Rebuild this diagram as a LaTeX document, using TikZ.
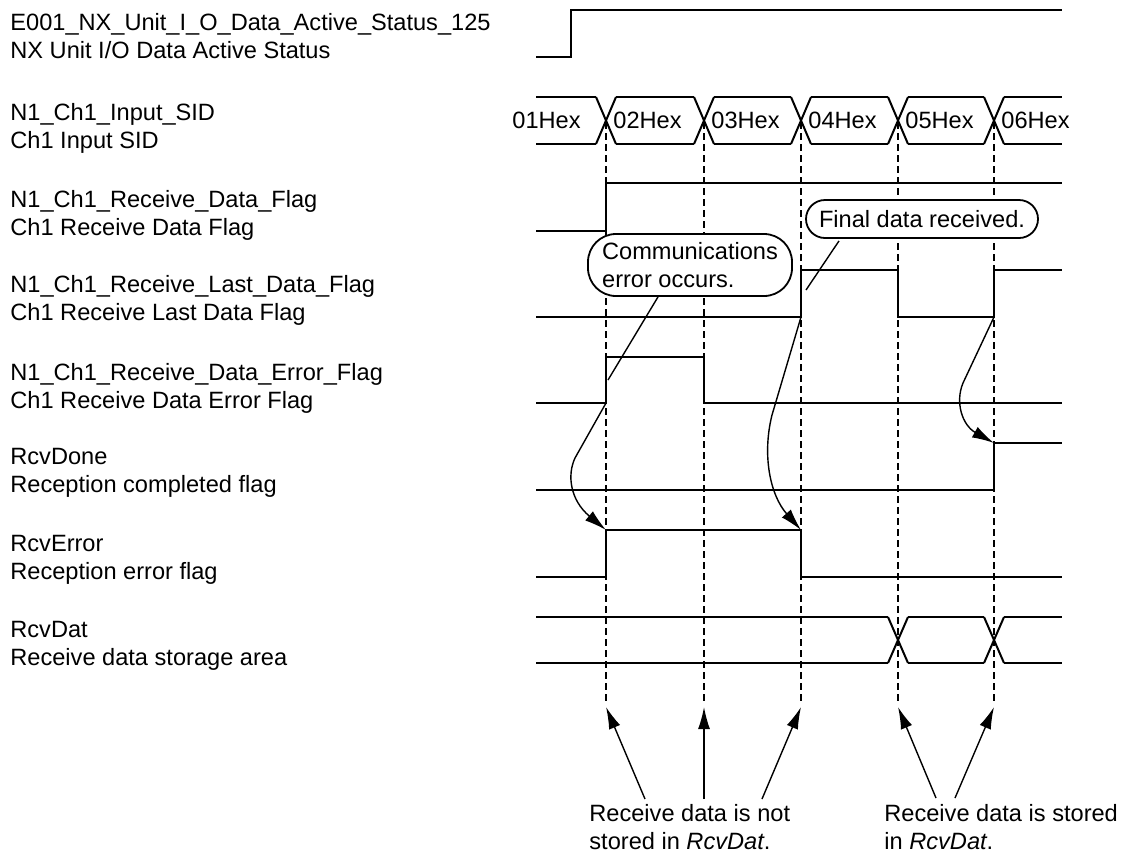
\documentclass[tikz,border=0pt]{standalone}
\usepackage{fontspec}
\setmainfont{Liberation Sans}
\usetikzlibrary{arrows.meta,calc,shapes.misc}

\begin{document}
\begin{tikzpicture}[x=0.5pt,y=-0.5pt,
  font=\fontsize{11.8}{13.9}\selectfont,
  wave/.style={line width=1pt},
  guide/.style={line width=0.7pt,dash pattern=on 3.5pt off 2pt},
  lead/.style={line width=0.7pt},
  headarrow/.style={-{Latex[length=11pt,width=6pt]}},
  callout/.style={draw,fill=white,line width=0.9pt,align=left,inner sep=0pt},
  sig/.style={anchor=west,align=left,inner sep=0pt}]
\useasboundingbox (0,0) rectangle (1129,852);

% signal names
\node[sig] (lblactive) at (10,36) {E001\_NX\_Unit\_I\_O\_Data\_Active\_Status\_125\\NX Unit I/O Data Active Status};
\node[sig] (lblsid) at (10,128) {N1\_Ch1\_Input\_SID\\Ch1 Input SID};
\node[sig] (lblrecv) at (10,215) {N1\_Ch1\_Receive\_Data\_Flag\\Ch1 Receive Data Flag};
\node[sig] (lbllast) at (10,300) {N1\_Ch1\_Receive\_Last\_Data\_Flag\\Ch1 Receive Last Data Flag};
\node[sig] (lblerr) at (10,388) {N1\_Ch1\_Receive\_Data\_Error\_Flag\\Ch1 Receive Data Error Flag};
\node[sig] (lbldone) at (10,473) {RcvDone\\Reception completed flag};
\node[sig] (lblrcverr) at (10,560) {RcvError\\Reception error flag};
\node[sig] (lbldat) at (10,646) {RcvDat\\Receive data storage area};

% dashed time marks
\foreach \t [count=\i] in {606,704,801,898,994} {
  \draw[guide] (\t,122) -- (\t,703);
  \coordinate (d\i) at (\t,707);
}

% waveforms
\draw[wave] (536,57) -- (571,57) -- (571,10) -- (1062,10);

\foreach \a/\b in {536/596,616/694,714/791,811/888,908/984,1004/1062}
  \draw[wave] (\a,97) -- (\b,97) (\a,144) -- (\b,144);
\foreach \t in {606,704,801,898,994}
  \draw[wave] (\t-10,97) -- (\t+10,144) (\t-10,144) -- (\t+10,97);
\node[anchor=east,inner sep=0pt] (sid1) at (581,120.5) {01Hex};
\node[anchor=west,inner sep=0pt] (sid2) at (613,120.5) {02Hex};
\node[anchor=west,inner sep=0pt] (sid3) at (711,120.5) {03Hex};
\node[anchor=west,inner sep=0pt] (sid4) at (808,120.5) {04Hex};
\node[anchor=west,inner sep=0pt] (sid5) at (905,120.5) {05Hex};
\node[anchor=west,inner sep=0pt] (sid6) at (1001,120.5) {06Hex};

\draw[wave] (536,231) -- (606,231) -- (606,183) -- (1062,183);
\draw[wave] (536,317) -- (801,317) -- (801,270) -- (898,270) -- (898,317)
  -- (994,317) -- (994,270) -- (1062,270);
\draw[wave] (536,403) -- (606,403) -- (606,357) -- (704,357) -- (704,403) -- (1062,403);
\draw[wave] (536,490) -- (994,490) -- (994,443) -- (1062,443);
\draw[wave] (536,577) -- (606,577) -- (606,530) -- (801,530) -- (801,577) -- (1062,577);

\foreach \a/\b in {536/888,908/984,1004/1062}
  \draw[wave] (\a,617) -- (\b,617) (\a,663) -- (\b,663);
\foreach \t in {898,994}
  \draw[wave] (\t-10,617) -- (\t+10,663) (\t-10,663) -- (\t+10,617);

\coordinate (errup) at (606,403);
\coordinate (rcverrup) at (606,530);
\coordinate (lastup) at (801,317);
\coordinate (rcverrdown) at (801,530);
\coordinate (lastup2) at (994,317);
\coordinate (doneup) at (994,443);
\coordinate (errmark) at (608,380);
\coordinate (lastmark) at (806,290);

% callouts
\node[callout,rounded corners=14pt,minimum width=102pt,minimum height=31pt] (commbox)
  at (690,265) {Communications\\error occurs.};
\node[callout,rounded rectangle,minimum width=116pt,minimum height=19pt] (finalbox)
  at (922,219) {Final data received.};
\draw[lead] ([xshift=-16pt]commbox.south) -- (errmark);
\draw[lead] ([xshift=-41.5pt,yshift=-1pt]finalbox.south) -- (lastmark);

% cause and effect
\draw[lead,headarrow] (errup) -- (575,458) .. controls (567,475) and (570,500) .. (rcverrup);
\draw[lead,headarrow] (lastup) -- (772,415) .. controls (762,455) and (770,495) .. (rcverrdown);
\draw[lead,headarrow] (lastup2) -- (963,383) .. controls (955,402) and (962,425) .. (doneup);

% notes at the bottom
\node[anchor=north west,align=left,inner sep=0pt] (notstored) at (589,804)
  {Receive data is not\\stored in \textit{RcvDat}.};
\node[anchor=north west,align=left,inner sep=0pt] (stored) at (884,804)
  {Receive data is stored\\in \textit{RcvDat}.};
\draw[lead,headarrow] ($(notstored.north west)+(56,-5)$) -- (d1);
\draw[lead,headarrow] ($(notstored.north west)+(115,-5)$) -- (d2);
\draw[lead,headarrow] ($(notstored.north west)+(173,-5)$) -- (d3);
\draw[lead,headarrow] ($(stored.north west)+(52,-6)$) -- (d4);
\draw[lead,headarrow] ($(stored.north west)+(71,-6)$) -- (d5);
\end{tikzpicture}
\end{document}
